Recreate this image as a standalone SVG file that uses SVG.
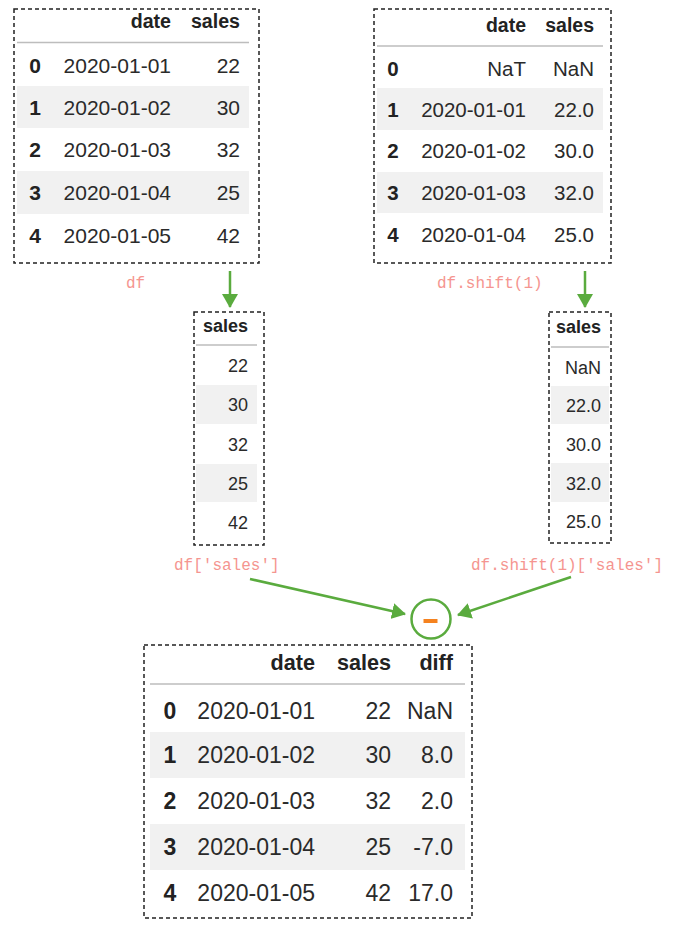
<svg xmlns="http://www.w3.org/2000/svg" width="687" height="930" viewBox="0 0 687 930">
<defs>
<style>
.box{fill:none;stroke:#222;stroke-width:1.5;stroke-dasharray:4 3}
.hl{stroke:#bdbdbd;stroke-width:1.5}
.band{fill:#f1f1f1}
.t{font-family:"Liberation Sans",Arial,sans-serif;fill:#2a2a2a}
.r{text-anchor:end}
.b{font-weight:bold;fill:#222}
.m{text-anchor:middle}
.lbl{font-family:"Liberation Mono","Courier New",monospace;font-size:16px;fill:#f59590}
.conn{stroke:#5aab3e;stroke-width:2.5;fill:none}
</style>
<marker id="ah" markerWidth="16" markerHeight="16" refX="13" refY="8" orient="auto" markerUnits="userSpaceOnUse">
<path d="M0,0 L14,8 L0,16 Z" fill="#5aab3e"/>
</marker>
</defs>
<rect width="687" height="930" fill="#fff"/>

<g id="df">
<rect class="box" x="14" y="9" width="245" height="254"/>
<rect class="band" x="17" y="86" width="232" height="42"/>
<rect class="band" x="17" y="171" width="232" height="43"/>
<line class="hl" x1="17" y1="42.5" x2="249" y2="42.5"/>
<g class="t b r" font-size="19.6"><text x="171" y="28">date</text><text x="240" y="28">sales</text></g>
<g class="t b m" font-size="21"><text x="35" y="72.5">0</text><text x="35" y="114.5">1</text><text x="35" y="157">2</text><text x="35" y="200">3</text><text x="35" y="243">4</text></g>
<g class="t r" font-size="21">
<text x="171" y="72.5">2020-01-01</text><text x="240" y="72.5">22</text>
<text x="171" y="114.5">2020-01-02</text><text x="240" y="114.5">30</text>
<text x="171" y="157">2020-01-03</text><text x="240" y="157">32</text>
<text x="171" y="200">2020-01-04</text><text x="240" y="200">25</text>
<text x="171" y="243">2020-01-05</text><text x="240" y="243">42</text>
</g>
</g>

<g id="df_shift">
<rect class="box" x="374" y="9" width="237" height="254"/>
<rect class="band" x="377" y="88" width="226" height="42"/>
<rect class="band" x="377" y="172" width="226" height="41"/>
<line class="hl" x1="377" y1="46" x2="603" y2="46"/>
<g class="t b r" font-size="19.5"><text x="526" y="32">date</text><text x="594" y="32">sales</text></g>
<g class="t b m" font-size="20.5"><text x="393" y="75.5">0</text><text x="393" y="116.5">1</text><text x="393" y="158">2</text><text x="393" y="200">3</text><text x="393" y="241.5">4</text></g>
<g class="t r" font-size="20.5">
<text x="526" y="75.5">NaT</text><text x="594" y="75.5">NaN</text>
<text x="526" y="116.5">2020-01-01</text><text x="594" y="116.5">22.0</text>
<text x="526" y="158">2020-01-02</text><text x="594" y="158">30.0</text>
<text x="526" y="200">2020-01-03</text><text x="594" y="200">32.0</text>
<text x="526" y="241.5">2020-01-04</text><text x="594" y="241.5">25.0</text>
</g>
</g>

<g id="df_sales">
<rect class="box" x="194" y="312" width="70" height="233"/>
<rect class="band" x="196" y="385" width="61" height="39"/>
<rect class="band" x="196" y="464" width="61" height="38"/>
<line class="hl" x1="196" y1="345" x2="257" y2="345"/>
<text class="t b r" font-size="18" x="248" y="332">sales</text>
<g class="t r" font-size="18">
<text x="248" y="372">22</text><text x="248" y="411">30</text><text x="248" y="450.5">32</text><text x="248" y="489.5">25</text><text x="248" y="529">42</text>
</g>
</g>

<g id="df_shift_sales">
<rect class="box" x="549" y="312" width="62" height="231"/>
<rect class="band" x="551" y="386" width="58" height="38"/>
<rect class="band" x="551" y="463" width="58" height="39"/>
<line class="hl" x1="551" y1="347" x2="609" y2="347"/>
<text class="t b r" font-size="18" x="601" y="333">sales</text>
<g class="t r" font-size="18">
<text x="601" y="373.5">NaN</text><text x="601" y="412">22.0</text><text x="601" y="451">30.0</text><text x="601" y="489.5">32.0</text><text x="601" y="528">25.0</text>
</g>
</g>

<g id="minus">
<circle cx="431" cy="619" r="19.5" fill="#fff" stroke="#5aab3e" stroke-width="2.5"/>
<line x1="423.5" y1="621" x2="437.5" y2="621" stroke="#f5821f" stroke-width="4"/>
</g>

<g id="result">
<rect class="box" x="144" y="645" width="328" height="273"/>
<rect class="band" x="150" y="732" width="315" height="46"/>
<rect class="band" x="150" y="824" width="315" height="46"/>
<line class="hl" x1="150" y1="684" x2="465" y2="684"/>
<g class="t b r" font-size="21.6"><text x="315" y="670">date</text><text x="391" y="670">sales</text><text x="453" y="670">diff</text></g>
<g class="t b m" font-size="23"><text x="170" y="719">0</text><text x="170" y="763">1</text><text x="170" y="809">2</text><text x="170" y="855">3</text><text x="170" y="901">4</text></g>
<g class="t r" font-size="23">
<text x="315" y="719">2020-01-01</text><text x="391" y="719">22</text><text x="453" y="719">NaN</text>
<text x="315" y="763">2020-01-02</text><text x="391" y="763">30</text><text x="453" y="763">8.0</text>
<text x="315" y="809">2020-01-03</text><text x="391" y="809">32</text><text x="453" y="809">2.0</text>
<text x="315" y="855">2020-01-04</text><text x="391" y="855">25</text><text x="453" y="855">-7.0</text>
<text x="315" y="901">2020-01-05</text><text x="391" y="901">42</text><text x="453" y="901">17.0</text>
</g>
</g>

<g id="labels">
<text class="lbl" x="126" y="288">df</text>
<text class="lbl" x="437" y="288">df.shift(1)</text>
<text class="lbl" x="174" y="570">df['sales']</text>
<text class="lbl" x="471" y="570">df.shift(1)['sales']</text>
</g>

<g id="connectors">
<line class="conn" x1="230" y1="271" x2="230" y2="307" marker-end="url(#ah)"/>
<line class="conn" x1="585" y1="271" x2="585" y2="307" marker-end="url(#ah)"/>
<line class="conn" x1="250" y1="579" x2="405" y2="614" marker-end="url(#ah)"/>
<line class="conn" x1="571" y1="577" x2="458" y2="615" marker-end="url(#ah)"/>
</g>
</svg>
